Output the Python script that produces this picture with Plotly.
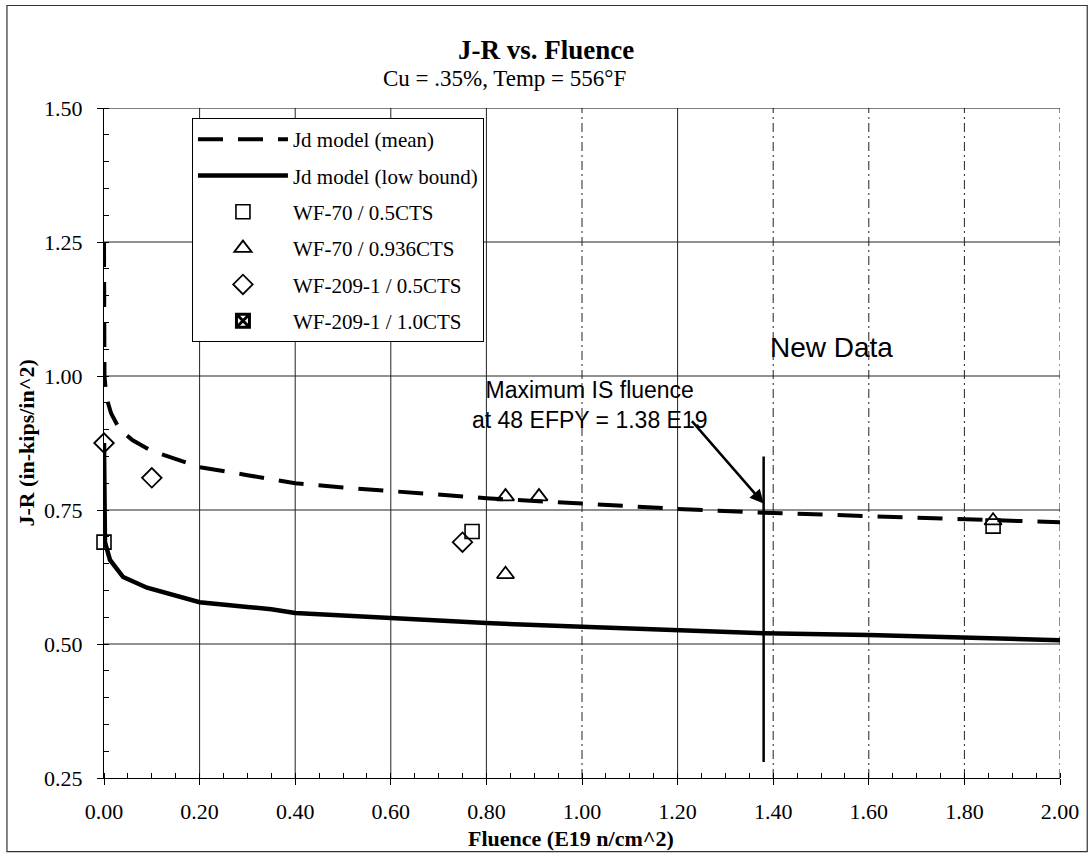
import plotly.graph_objects as go

# Jd model curves (fluence in E19 n/cm^2, J-R in in-kips/in^2)
mean_fluence = [0.0, 0.001, 0.005, 0.015, 0.033, 0.06, 0.10, 0.15, 0.20, 0.30, 0.40,
                0.50, 0.60, 0.80, 1.00, 1.20, 1.38, 1.60, 1.80, 2.00]
mean_jr = [1.25, 1.00, 0.96, 0.93, 0.90, 0.88, 0.86, 0.845, 0.83, 0.815, 0.80,
           0.792, 0.785, 0.772, 0.762, 0.752, 0.745, 0.739, 0.734, 0.727]

low_fluence = [0.0, 0.002, 0.0125, 0.04, 0.09, 0.20, 0.30, 0.35, 0.40, 0.57,
               0.80, 1.00, 1.20, 1.38, 1.60, 1.80, 2.00]
low_jr = [0.875, 0.69, 0.657, 0.625, 0.605, 0.578, 0.569, 0.565, 0.558, 0.55,
          0.539, 0.532, 0.526, 0.52, 0.517, 0.513, 0.507]

# Test data
wf70_05_x = [0.0, 0.77, 1.86]
wf70_05_y = [0.69, 0.71, 0.72]
wf70_0936_x = [0.84, 0.91, 0.84, 1.86]
wf70_0936_y = [0.775, 0.775, 0.63, 0.73]
wf209_05_x = [0.0, 0.10, 0.75]
wf209_05_y = [0.875, 0.81, 0.69]
wf209_10_x = [0.0]
wf209_10_y = [1.505]

# Maximum IS fluence at 48 EFPY
max_fluence = 1.38
max_line_y = [0.28, 0.85]

x_ticks = [0.0, 0.2, 0.4, 0.6, 0.8, 1.0, 1.2, 1.4, 1.6, 1.8, 2.0]
x_tick_text = ["0.00", "0.20", "0.40", "0.60", "0.80", "1.00", "1.20", "1.40", "1.60", "1.80", "2.00"]
y_ticks = [0.25, 0.50, 0.75, 1.00, 1.25, 1.50]
y_tick_text = ["0.25", "0.50", "0.75", "1.00", "1.25", "1.50"]
x_grid_solid = [0.2, 0.4, 0.6, 0.8, 1.2]
x_grid_dashed = [1.0, 1.4, 1.6, 1.8, 2.0]
y_grid = [0.50, 0.75, 1.00, 1.25]

SERIF = "Liberation Serif, Times New Roman, serif"
SANS = "Liberation Sans, Arial, sans-serif"

fig = go.Figure()

fig.add_trace(go.Scatter(
    x=mean_fluence, y=mean_jr, mode="lines", name="Jd model (mean)",
    line=dict(color="black", width=4, dash="25px,15px"), legendgroup="a"))
fig.add_trace(go.Scatter(
    x=low_fluence, y=low_jr, mode="lines", name="Jd model (low bound)",
    line=dict(color="black", width=4.5), legendgroup="b"))
fig.add_trace(go.Scatter(
    x=wf70_05_x, y=wf70_05_y, mode="markers", name="WF-70 / 0.5CTS",
    marker=dict(symbol="square-open", size=14, color="black", line=dict(width=1.6)),
    legendgroup="c", cliponaxis=False))
fig.add_trace(go.Scatter(
    x=wf70_0936_x, y=wf70_0936_y, mode="markers", name="WF-70 / 0.936CTS",
    marker=dict(symbol="triangle-up-open", size=15, color="black", line=dict(width=1.8)),
    legendgroup="d", cliponaxis=False))
fig.add_trace(go.Scatter(
    x=wf209_05_x, y=wf209_05_y, mode="markers", name="WF-209-1 / 0.5CTS",
    marker=dict(symbol="diamond-open", size=15, color="black", line=dict(width=1.8)),
    legendgroup="e", cliponaxis=False))
fig.add_trace(go.Scatter(
    x=wf209_10_x, y=wf209_10_y, mode="markers", name="WF-209-1 / 1.0CTS",
    marker=dict(symbol="square-x-open", size=13, color="black", line=dict(width=3)),
    legendgroup="f", cliponaxis=False))

fig.add_trace(go.Scatter(
    x=[max_fluence, max_fluence], y=max_line_y, mode="lines", showlegend=False,
    line=dict(color="black", width=2.5)))

shapes = []
for gx in x_grid_solid:
    shapes.append(dict(type="line", xref="x", yref="y", x0=gx, x1=gx, y0=0.25, y1=1.5,
                       line=dict(color="#222", width=1), layer="below"))
for gx in x_grid_dashed:
    shapes.append(dict(type="line", xref="x", yref="y", x0=gx, x1=gx, y0=0.25, y1=1.5,
                       line=dict(color="#222", width=1, dash="9px,4px,2px,4px"), layer="below"))
for gy in y_grid:
    shapes.append(dict(type="line", xref="x", yref="y", x0=0, x1=2.0, y0=gy, y1=gy,
                       line=dict(color="#222", width=1), layer="below"))
# top border at 1.50
shapes.append(dict(type="line", xref="x", yref="y", x0=0, x1=2.0, y0=1.5, y1=1.5,
                   line=dict(color="black", width=1.2)))
# outer frame
shapes.append(dict(type="rect", xref="paper", yref="paper",
                   x0=-0.1015, x1=1.0285, y0=-0.110, y1=1.153,
                   line=dict(color="#333", width=1.2)))

annotations = [
    dict(text="<b>J-R vs. Fluence</b>", xref="paper", yref="paper", x=0.462, y=1.0,
         yshift=58, yanchor="middle", showarrow=False,
         font=dict(family=SERIF, size=27, color="black")),
    dict(text="Cu = .35%, Temp = 556°F", xref="paper", yref="paper", x=0.419, y=1.0,
         yshift=30, yanchor="middle", showarrow=False,
         font=dict(family=SERIF, size=23, color="black")),
    dict(text="<b>J-R (in-kips/in^2)</b>", xref="paper", yref="paper", x=-0.082, y=0.5,
         xanchor="center", yanchor="middle",
         textangle=-90, showarrow=False, font=dict(family=SERIF, size=22, color="black")),
    dict(text="<b>Fluence (E19 n/cm^2)</b>", xref="paper", yref="paper", x=0.4885, y=-0.090,
         yanchor="middle", showarrow=False, font=dict(family=SERIF, size=22, color="black")),
    dict(text="New Data", xref="paper", yref="paper", x=0.827, y=0.643,
         yanchor="middle", showarrow=False, font=dict(family=SANS, size=28, color="black")),
    dict(text="Maximum IS fluence<br>at 48 EFPY = 1.38 E19", xref="paper", yref="paper",
         x=0.508, y=0.557, yanchor="middle", showarrow=False, align="center",
         font=dict(family=SANS, size=23, color="black")),
    dict(text="", xref="x", yref="y", x=max_fluence, y=0.762, ax=-73, ay=-84,
         showarrow=True, arrowhead=2, arrowsize=1.1, arrowwidth=2.5, arrowcolor="black"),
]

fig.update_layout(
    width=1090, height=854,
    margin=dict(l=104, r=30, t=108, b=76),
    paper_bgcolor="white", plot_bgcolor="white",
    shapes=shapes, annotations=annotations,
    font=dict(family=SERIF, size=22, color="black"),
    legend=dict(x=0.092, y=0.985, xanchor="left", yanchor="top",
                bgcolor="white", bordercolor="black", borderwidth=1,
                font=dict(family=SERIF, size=21, color="black"),
                itemwidth=90, tracegroupgap=6, traceorder="grouped"),
    xaxis=dict(range=[0, 2.0], tickvals=x_ticks, ticktext=x_tick_text,
               showgrid=False, zeroline=False, showline=True, linecolor="black",
               linewidth=1.2, mirror=False, ticks="outside", ticklen=6,
               tickcolor="black", ticklabelstandoff=7,
               tickfont=dict(family=SERIF, size=22),
               minor=dict(ticks="inside", dtick=0.05, ticklen=5, tickcolor="black",
                          showgrid=False)),
    yaxis=dict(range=[0.25, 1.5], tickvals=y_ticks, ticktext=y_tick_text,
               showgrid=False, zeroline=False, showline=True, linecolor="black",
               linewidth=1.2, ticks="outside", ticklen=6, tickcolor="black",
               ticklabelstandoff=10,
               tickfont=dict(family=SERIF, size=22),
               minor=dict(ticks="inside", dtick=0.05, ticklen=5, tickcolor="black",
                          showgrid=False)),
)

fig.write_html("out.html")
